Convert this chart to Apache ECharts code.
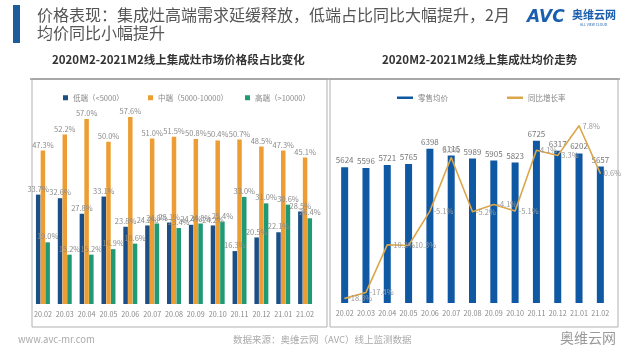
<!DOCTYPE html>
<html><head><meta charset="utf-8">
<script src="https://cdn.jsdelivr.net/npm/echarts@6/dist/echarts.min.js"></script>
<style>html,body{margin:0;padding:0;background:#fff}#c{width:640px;height:360px}</style>
</head><body><div id="c"></div>
<script>
const months = ['20.02','20.03','20.04','20.05','20.06','20.07','20.08','20.09','20.10','20.11','20.12','21.01','21.02'];
const lowShare = [33.7,32.6,27.8,33.1,23.8,24.2,25.1,24.4,24.2,16.3,20.5,22.1,28.5];
const midShare = [47.3,52.2,57.0,50.0,57.6,51.0,51.5,50.8,50.4,50.7,48.5,47.3,45.1];
const highShare = [19.0,15.2,15.2,16.9,18.6,24.8,23.4,24.8,25.4,33.0,31.0,30.6,26.4];
const avgPrice = [5624,5596,5721,5765,6398,6115,5989,5905,5823,6725,6317,6202,5657];
const yoyRate = [-18.3,-17.4,-10.2,-10.3,-5.1,3.0,-5.2,-4.1,-5.1,4.1,3.3,7.8,0.6];

const FONT = '"Noto Sans CJK SC", "Noto Sans", sans-serif';
const chart = echarts.init(document.getElementById('c'), null, {renderer: 'canvas'});

const pctLabel = {show: true, position: 'top', distance: 2, fontSize: 7.5, color: '#8a8a8a', fontFamily: FONT,
  formatter: p => p.value.toFixed(1) + '%'};

const lineLabelPos = yoyRate.map((v, i) => (i === 5 ? 'top' : 'right'));
const legText = {fontSize: 7.5, color: '#888', fontFamily: FONT};
const names = ['低端（<5000）', '中端（5000-10000）', '高端（>10000）', '零售均价', '同比增长率'];

chart.setOption({
  animation: false,
  textStyle: {fontFamily: FONT},
  grid: [
    {left: 32, width: 284, top: 93, height: 211},
    {left: 334, width: 277, top: 98, height: 205}
  ],
  legend: [
    {data: [names[0]], left: 58, top: 89, itemWidth: 5, itemHeight: 5, itemGap: 3, textStyle: legText, icon: 'rect'},
    {data: [names[1]], left: 143, top: 89, itemWidth: 5, itemHeight: 5, itemGap: 3, textStyle: legText, icon: 'rect'},
    {data: [names[2]], left: 240, top: 89, itemWidth: 5, itemHeight: 5, itemGap: 3, textStyle: legText, icon: 'rect'},
    {data: [names[3]], left: 392, top: 89, itemWidth: 16, itemHeight: 2.5, textStyle: legText, icon: 'rect'},
    {data: [names[4]], left: 502, top: 89, itemWidth: 16, itemHeight: 2.5, textStyle: legText, icon: 'rect'}
  ],
  xAxis: [
    {type: 'category', data: months, gridIndex: 0, axisLine: {show: false}, axisTick: {show: false},
      axisLabel: {fontSize: 7.2, color: '#888', margin: 7, interval: 0}},
    {type: 'category', data: months, gridIndex: 1, axisLine: {show: false}, axisTick: {show: false},
      axisLabel: {fontSize: 7.2, color: '#888', margin: 7, interval: 0}}
  ],
  yAxis: [
    {type: 'value', gridIndex: 0, min: 0, max: 65, show: false, splitLine: {show: false}},
    {type: 'value', gridIndex: 1, min: 0, max: 8500, show: false, splitLine: {show: false}},
    {type: 'value', gridIndex: 1, min: -19, max: 12, show: false, splitLine: {show: false}}
  ],
  series: [
    {name: names[0], type: 'bar', xAxisIndex: 0, yAxisIndex: 0, data: lowShare, barWidth: 4.5, barGap: '5%',
      itemStyle: {color: '#1c4f86'}, label: pctLabel},
    {name: names[1], type: 'bar', xAxisIndex: 0, yAxisIndex: 0, data: midShare, barWidth: 4.5, barGap: '5%',
      itemStyle: {color: '#ec9e35'}, label: pctLabel},
    {name: names[2], type: 'bar', xAxisIndex: 0, yAxisIndex: 0, data: highShare, barWidth: 4.5, barGap: '5%',
      itemStyle: {color: '#1f9a74'}, label: pctLabel},
    {name: names[3], type: 'bar', xAxisIndex: 1, yAxisIndex: 1, data: avgPrice, barWidth: 7,
      itemStyle: {color: '#0f58a3'},
      label: {show: true, position: 'top', distance: 3, fontSize: 8, color: '#777', fontFamily: FONT}},
    {name: names[4], type: 'line', xAxisIndex: 1, yAxisIndex: 2,
      data: yoyRate.map((v, i) => ({value: v, label: {position: lineLabelPos[i]}})),
      symbol: 'circle', symbolSize: 1, showSymbol: true,
      lineStyle: {color: '#dca64a', width: 1.6}, itemStyle: {color: '#dca64a'},
      label: {show: true, fontSize: 7.5, color: '#999', fontFamily: FONT, distance: 3,
        formatter: p => p.value.toFixed(1) + '%'}}
  ],
  graphic: [
    {type: 'rect', shape: {x: 13, y: 5, width: 7, height: 38}, style: {fill: '#1f5c9a'}},
    {type: 'text', left: 37, top: 7, style: {text: '价格表现：集成灶高端需求延缓释放，低端占比同比大幅提升，2月',
      font: '16px ' + FONT, fill: '#555'}},
    {type: 'text', left: 37, top: 25, style: {text: '均价同比小幅提升', font: '16px ' + FONT, fill: '#555'}},
    {type: 'text', left: 527, top: 9, style: {text: 'AVC', font: 'italic bold 17px "DejaVu Sans", sans-serif', fill: '#1a5fae'}},
    {type: 'text', left: 572, top: 9, style: {text: '奥维云网', font: 'bold 11px ' + FONT, fill: '#1a5fae'}},
    {type: 'text', left: 580, top: 23, style: {text: 'ALL VIEW CLOUD', font: '3.5px ' + FONT, fill: '#1a5fae'}},
    {type: 'text', left: 52, top: 54, style: {text: '2020M2-2021M2线上集成灶市场价格段占比变化', font: 'bold 11.5px ' + FONT, fill: '#333'}},
    {type: 'text', left: 382, top: 54, style: {text: '2020M2-2021M2线上集成灶均价走势', font: 'bold 11.5px ' + FONT, fill: '#333'}},
    {type: 'rect', shape: {x: 32, y: 79, width: 295, height: 248}, style: {fill: 'none', stroke: '#b0b0b0', lineWidth: 1}},
    {type: 'rect', shape: {x: 330, y: 79, width: 288, height: 248}, style: {fill: 'none', stroke: '#b0b0b0', lineWidth: 1}},
    {type: 'line', shape: {x1: 30, y1: 79, x2: 620, y2: 79}, style: {stroke: '#999', lineWidth: 1.5}},
    {type: 'text', left: 18, top: 335, style: {text: 'www.avc-mr.com', font: '9.5px ' + FONT, fill: '#aaa'}},
    {type: 'text', left: 233, top: 335, style: {text: '数据来源：奥维云网（AVC）线上监测数据', font: '9.5px ' + FONT, fill: '#aaa'}},
    {type: 'text', left: 560, top: 331, style: {text: '奥维云网', font: '14px ' + FONT, fill: '#999'}}
  ]
});
</script></body></html>
